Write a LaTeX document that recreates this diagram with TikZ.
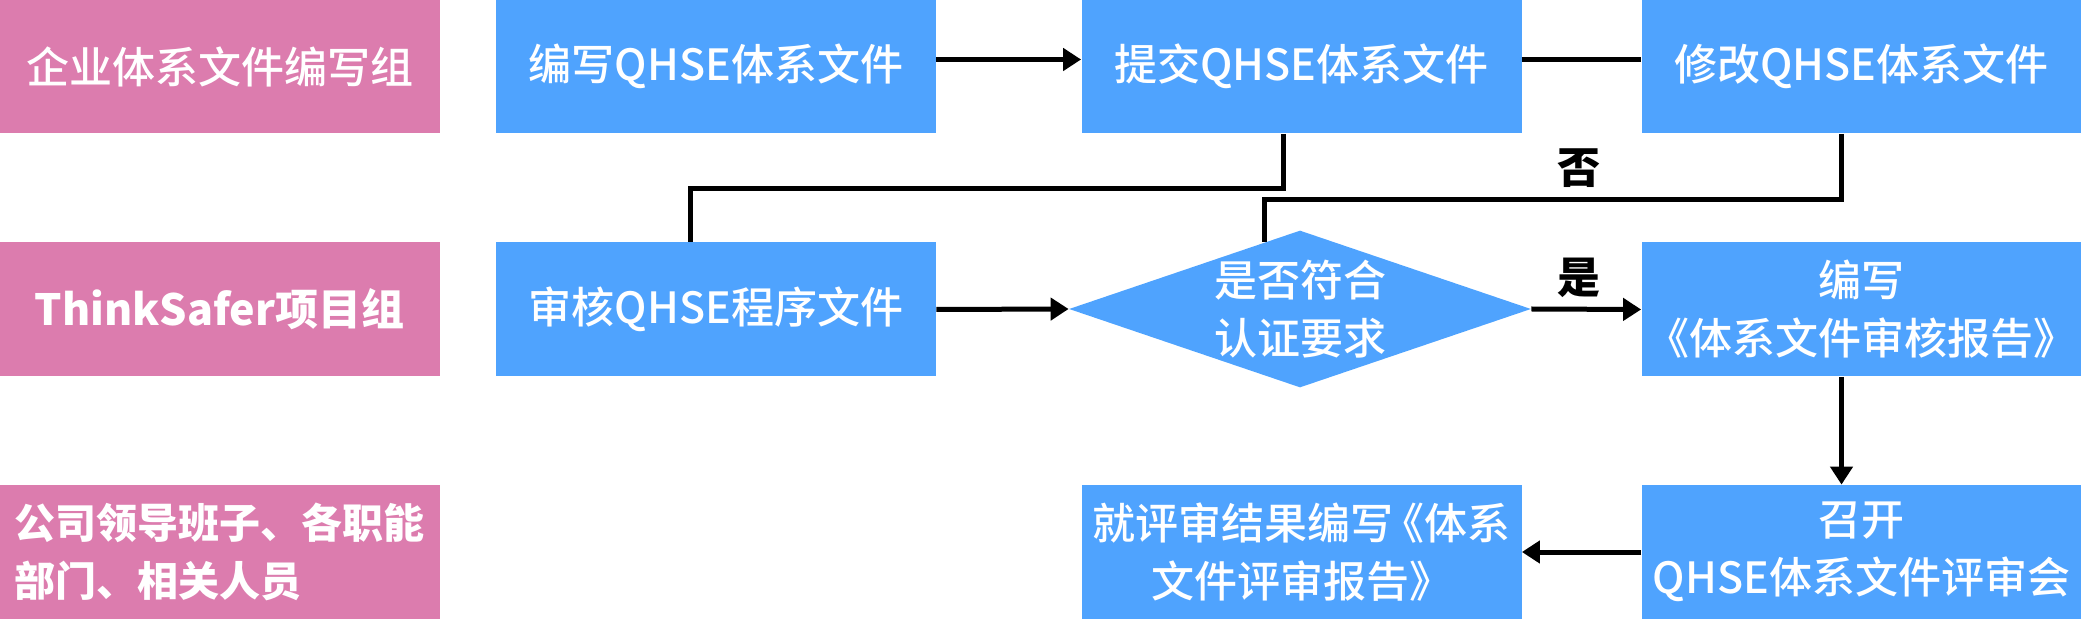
\documentclass[tikz,border=0pt]{standalone}
\usepackage{fontspec}
\setmainfont{Noto Sans CJK SC}
\IfFontExistsTF{Noto Sans CJK SC Medium}
	{\newfontfamily\midfont{Noto Sans CJK SC Medium}}
	{\newfontfamily\midfont{Noto Sans CJK SC}}
\usetikzlibrary{shapes.geometric,arrows.meta}

\definecolor{boxblue}{RGB}{79,163,254}
\definecolor{lanepink}{RGB}{220,124,174}
\tikzset{
	lane/.style={fill=lanepink,text=white,font=\bfseries\fontsize{21.5}{29}\selectfont,minimum width=220pt,minimum height=67pt,inner sep=0pt},
	stepbox/.style={fill=boxblue,text=white,font=\midfont\fontsize{21.5}{29}\selectfont,align=center,minimum width=220pt,minimum height=67pt,inner sep=0pt},
	decision/.style={diamond,fill=boxblue,minimum width=231pt,minimum height=78.5pt,inner sep=0pt},
	link/.style={black,line width=2.5pt},
	flow/.style={link,-{Triangle[length=9pt,width=11pt]}},
	answer/.style={font=\bfseries\fontsize{21.5}{29}\selectfont}
}

\begin{document}
\begin{tikzpicture}[x=0.5pt,y=-0.5pt]
		\useasboundingbox (0,0) rectangle (2081,619);
		% lanes
		\node[lane,font=\midfont\fontsize{21.5}{29}\selectfont] (team1) at (219.5,66.5) {企业体系文件编写组};
		\node[lane] (team2) at (219.5,309.5) {ThinkSafer项目组};
		\node[lane,align=left,font=\bfseries\fontsize{20.5}{29}\selectfont] (team3) at (219.5,552) {公司领导班子、各职能\\部门、相关人员};
		
		% steps
		\node[stepbox] (write) at (716,66.5) {编写QHSE体系文件};
		\node[stepbox] (submit) at (1301.5,66.5) {提交QHSE体系文件};
		\node[stepbox] (revise) at (1861.5,66.5) {修改QHSE体系文件};
		\node[stepbox] (audit) at (716,309.5) {审核QHSE程序文件};
		\node[decision,label={[text=white,font=\midfont\fontsize{21.5}{29}\selectfont,align=center]center:{是否符合\\认证要求}}] (check) at (1300,309) {};
		\node[stepbox] (report) at (1861.5,309.5) {编写\\《体系文件审核报告》};
		\node[stepbox] (meeting) at (1861.5,552) {召开\\QHSE体系文件评审会};
		\node[stepbox] (result) at (1301.5,552) {就评审结果编写\kern-0.3em《体系\\文件评审报告》};
		
		% connectors
		\draw[flow] ([yshift=3.5pt]write.east) -- ([yshift=3.5pt]submit.west);
		\draw[link] ([yshift=3.5pt]submit.east) -- ([yshift=3.5pt]revise.west);
		\coordinate (j1) at (690,189);
		\draw[link] ([xshift=-9pt]submit.south) |- (j1) -- (j1 |- audit.north);
		\coordinate (j2) at (1264,200);
		\draw[link] ([xshift=-10pt]revise.south) |- (j2) -- (j2 |- check.118.5);
		\draw[flow] (audit.east) -- (check.west);
		\draw[flow] (check.east) -- (report.west);
		\draw[flow] ([xshift=-10pt]report.south) -- ([xshift=-10pt]meeting.north);
		\draw[flow] (meeting.west) -- (result.east);
		
		\node[answer] (no) at (1579,168) {否};
		\node[answer] (yes) at (1579,278) {是};
	\end{tikzpicture}
\end{document}
